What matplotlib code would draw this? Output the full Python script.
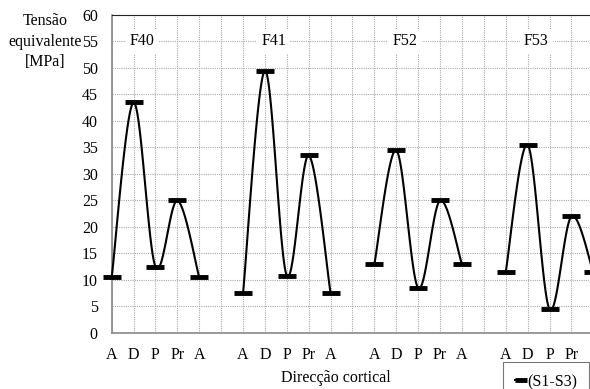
import numpy as np
import matplotlib
matplotlib.use('Agg')
import matplotlib.pyplot as plt
from matplotlib.lines import Line2D

## Data
directions = ['A', 'D', 'P', 'Pr', 'A']
groups = ['F40', 'F41', 'F52', 'F53']
f40 = [10.5, 43.5, 12.5, 25.0, 10.5]
f41 = [7.5, 49.5, 10.8, 33.5, 7.5]
f52 = [13.0, 34.5, 8.5, 25.0, 13.0]
f53 = [11.5, 35.5, 4.5, 22.0, 11.5]
series = [f40, f41, f52, f53]

plt.rcParams['font.family'] = ['Liberation Serif', 'DejaVu Serif']


# smooth line like the spreadsheet one (Catmull-Rom through the points)
def smooth(x, y, n=30):
    x = np.asarray(x, float)
    y = np.asarray(y, float)
    px = np.concatenate([[x[0]], x, [x[-1]]])
    py = np.concatenate([[y[0]], y, [y[-1]]])
    xs, ys = [], []
    t = np.linspace(0, 1, n)
    for i in range(1, len(px) - 2):
        for p, out in ((px, xs), (py, ys)):
            p0, p1, p2, p3 = p[i - 1], p[i], p[i + 1], p[i + 2]
            out.extend(0.5 * ((2 * p1) + (-p0 + p2) * t
                              + (2 * p0 - 5 * p1 + 4 * p2 - p3) * t ** 2
                              + (-p0 + 3 * p1 - 3 * p2 + p3) * t ** 3))
    return xs, ys


fig = plt.figure(figsize=(5.9, 3.89), dpi=100)
ax = fig.add_axes([0.1893, 0.144, 0.8107, 0.8175])

step = len(directions) + 1
tick_pos = []
tick_lab = []
for g, (name, vals) in enumerate(zip(groups, series)):
    xpos = [g * step + i for i in range(len(directions))]
    sx, sy = smooth(xpos, vals)
    ax.plot(sx, sy, color='black', lw=1.5, zorder=3, clip_on=False)
    ax.plot(xpos, vals, ls='none', marker='_', ms=13, mew=3.5,
            color='black', zorder=4, clip_on=False)
    ax.text(g * step + 1.4, 55, name, ha='center', va='center', fontsize=11.5,
            bbox=dict(facecolor='white', edgecolor='none', pad=3), zorder=2)
    tick_pos += xpos + [g * step + len(directions)]
    tick_lab += directions + ['']

ax.set_xticks(tick_pos[:-1])
ax.set_xticklabels(tick_lab[:-1], fontsize=11.5)
ax.set_yticks(range(0, 61, 5))
ax.set_xlim(0, 21.85)
ax.set_ylim(0, 60)
ax.tick_params(axis='both', length=0, labelsize=11.5)
ax.tick_params(axis='x', pad=10)
ax.tick_params(axis='y', pad=10)
ax.grid(True, color='#aaaaaa', ls=(0, (1, 1)), lw=0.8)
ax.set_axisbelow(True)

for s in ['left', 'bottom']:
    ax.spines[s].set_color('#888888')
    ax.spines[s].set_linewidth(1.2)
ax.spines['top'].set_color('#222222')
ax.spines['right'].set_visible(False)

fig.text(0.077, 0.967, 'Tensão\nequivalente\n[MPa]', ha='center', va='top',
         fontsize=11.5, linespacing=1.4)
fig.text(0.57, 0.028, 'Direcção cortical', ha='center', va='center',
         fontsize=11.5)

handle = Line2D([], [], color='black', lw=1.5, marker='_', ms=8, mew=3.5)
leg = fig.legend([handle], ['(S1-S3)'], loc='upper left',
                 bbox_to_anchor=(0.8525, 0.0694), borderaxespad=0,
                 fontsize=11.5, frameon=True, fancybox=False,
                 handlelength=0.7, handletextpad=0.05, borderpad=0.75)
leg.get_frame().set_edgecolor('#555555')
leg.get_frame().set_linewidth(0.8)

fig.savefig('out.png', dpi=100)
